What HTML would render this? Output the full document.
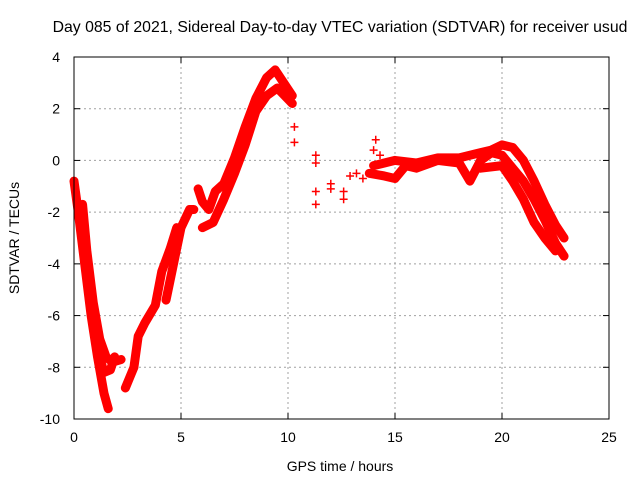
<!DOCTYPE html>
<html><head><meta charset="utf-8"><style>
body{margin:0;background:#fff}
svg{display:block;font-family:"Liberation Sans",sans-serif;font-size:14px}
</style></head><body>
<svg width="640" height="480" id="chart">
<text x="340" y="32" text-anchor="middle" style="font-size:15.8px">Day 085 of 2021, Sidereal Day-to-day VTEC variation (SDTVAR) for receiver usud</text>
<text x="340" y="471" text-anchor="middle">GPS time / hours</text>
<text transform="translate(19,238) rotate(-90)" text-anchor="middle">SDTVAR / TECUs</text>
<g id="grid"></g><g id="ticks"></g><g id="data"></g>
<rect x="74" y="57" width="535" height="362" fill="none" stroke="#000"/>
</svg>
<script>
const xTicks=[0,5,10,15,20,25];
const yTicks=[4,2,0,-2,-4,-6,-8,-10];
const trackA=[[0,-0.8],[0.2,-2],[0.5,-4],[0.8,-6],[1.1,-7.6],[1.4,-9.0],[1.6,-9.6]];
const trackB=[[0.4,-1.7],[0.6,-3.5],[0.9,-5.5],[1.2,-6.9],[1.5,-7.6],[1.8,-7.8],[2.2,-7.7]];
const trackC=[[1.2,-7.6],[1.4,-8.2],[1.7,-8.1],[1.9,-7.6]];
const trackD=[[2.4,-8.8],[2.8,-8.0],[3.0,-6.8],[3.3,-6.3],[3.8,-5.6],[4.1,-4.3],[4.5,-3.4],[4.8,-2.6]];
const trackE=[[4.3,-5.4],[4.6,-4.2],[5.0,-2.6],[5.4,-1.9],[5.6,-1.9]];
const trackF=[[5.8,-1.1],[6.0,-1.6],[6.3,-1.9],[6.6,-1.2],[7.0,-0.9],[7.5,0.1],[8.0,1.3],[8.5,2.4],[9.0,3.2],[9.4,3.5],[9.8,3.0],[10.2,2.5]];
const trackG=[[6.0,-2.6],[6.5,-2.4],[7.0,-1.5],[7.5,-0.5],[8.0,0.6],[8.5,1.9],[9.0,2.5],[9.5,2.8],[10.2,2.2]];
const trackH=[[13.8,-0.5],[14.5,-0.6],[15,-0.7],[15.5,-0.2],[16,-0.3],[17,0],[18,-0.1],[18.5,-0.8],[19,0],[19.5,0.3],[20,0.2],[20.5,-0.3],[21,-0.8],[21.5,-1.5],[22,-2.3],[22.5,-3.2],[22.9,-3.7]];
const trackI=[[14,-0.2],[15,0],[16,-0.1],[17,0.1],[18,0.1],[19,0.3],[19.5,0.4],[20,0.6],[20.5,0.5],[21,0],[21.5,-0.8],[22,-1.7],[22.5,-2.5],[22.9,-3.0]];
const trackJ=[[19,-0.3],[20,-0.2],[20.5,-0.8],[21,-1.5],[21.5,-2.4],[22,-3.0],[22.5,-3.5]];
const scatter=[[10.3,1.3],[10.3,0.7],[11.3,0.2],[11.3,-0.1],[11.3,-1.2],[11.3,-1.7],[12,-0.9],[12,-1.1],[12.6,-1.2],[12.6,-1.5],[12.9,-0.6],[13.2,-0.5],[13.5,-0.7],[14,0.4],[14.1,0.8],[14.3,0.2]];
const tracks=[trackA,trackB,trackC,trackD,trackE,trackF,trackG,trackH,trackI,trackJ];
const X=h=>74+h*535/25, Y=v=>57+(4-v)*362/14;
const NS="http://www.w3.org/2000/svg";
function mk(t,a,p){const e=document.createElementNS(NS,t);for(const k in a)e.setAttribute(k,a[k]);p.appendChild(e);return e;}
const grid=document.getElementById('grid'),ticks=document.getElementById('ticks'),data=document.getElementById('data');
xTicks.forEach(t=>{const x=X(t);
 if(t>0&&t<25){const g=mk('line',{x1:x,x2:x,y1:57,y2:419,stroke:'#a0a0a0','stroke-dasharray':'2,3'},grid);
 
 }
 mk('line',{x1:x,x2:x,y1:419,y2:413,stroke:'#000'},ticks);mk('line',{x1:x,x2:x,y1:57,y2:63,stroke:'#000'},ticks);
 const l=mk('text',{x:x,y:442,'text-anchor':'middle'},ticks);l.textContent=t;
 
 });
yTicks.forEach(t=>{const y=Y(t);
 if(t>-10&&t<4){const g=mk('line',{x1:74,x2:609,y1:y,y2:y,stroke:'#a0a0a0','stroke-dasharray':'2,3'},grid);
 
 }
 mk('line',{x1:74,x2:80,y1:y,y2:y,stroke:'#000'},ticks);mk('line',{x1:609,x2:603,y1:y,y2:y,stroke:'#000'},ticks);
 const l=mk('text',{x:60,y:y+5,'text-anchor':'end'},ticks);l.textContent=t;
 
 });
function plus(h,v){const x=X(h),y=Y(v);
 const p=mk('path',{d:`M${x-4},${y}H${x+4}M${x},${y-4}V${y+4}`,stroke:'#f00','stroke-width':1.5},data);
 
 }
tracks.forEach(tr=>{const pl=mk('polyline',{points:tr.map(p=>X(p[0])+','+Y(p[1])).join(' '),fill:'none',stroke:'#f00','stroke-width':9,'stroke-linejoin':'round','stroke-linecap':'round'},data);
 
 
 tr.forEach(p=>plus(p[0],p[1]));});
scatter.forEach(p=>plus(p[0],p[1]));
</script>
</body></html>
